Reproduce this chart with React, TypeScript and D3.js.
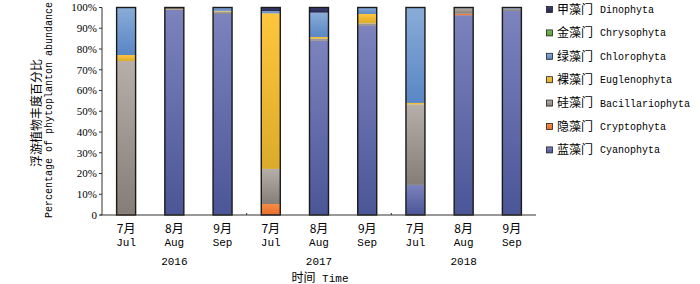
import React from "react";
import * as d3 from "d3";

const months = ["7月", "8月", "9月", "7月", "8月", "9月", "7月", "8月", "9月"];
const monthsEn = ["Jul", "Aug", "Sep", "Jul", "Aug", "Sep", "Jul", "Aug", "Sep"];
const years = ["2016", "2017", "2018"];
const seriesKeys = ["Cyanophyta", "Cryptophyta", "Bacillariophyta", "Euglenophyta", "Chlorophyta", "Chrysophyta", "Dinophyta"];
const seriesCn = ["蓝藻门", "隐藻门", "硅藻门", "裸藻门", "绿藻门", "金藻门", "甲藻门"];
const Cyanophyta = [0, 98.8, 96.9, 0, 84.0, 91.2, 14.5, 96.3, 98.3];
const Cryptophyta = [0.5, 0, 0, 5.3, 0, 0, 0, 0.7, 0];
const Bacillariophyta = [73.7, 0.4, 1.2, 16.9, 1.0, 1.2, 38.8, 2.7, 1.2];
const Euglenophyta = [2.9, 0.3, 0.3, 75.0, 0.8, 4.5, 0.7, 0, 0];
const Chlorophyta = [22.9, 0, 1.6, 1.0, 11.7, 3.1, 46.0, 0, 0.5];
const Chrysophyta = [0, 0, 0, 0, 0, 0, 0, 0, 0];
const Dinophyta = [0, 0.5, 0, 1.8, 2.5, 0, 0, 0.3, 0];
const yTicks = [0, 10, 20, 30, 40, 50, 60, 70, 80, 90, 100];

const colorsTop: Record<string, string> = {
  Cyanophyta: "#7c83bd", Cryptophyta: "#f68b47", Bacillariophyta: "#b5aea9",
  Euglenophyta: "#ffc63c", Chlorophyta: "#8aacd8", Chrysophyta: "#7cbf55", Dinophyta: "#3d4074",
};
const colorsBot: Record<string, string> = {
  Cyanophyta: "#4b5697", Cryptophyta: "#e86e2c", Bacillariophyta: "#857d78",
  Euglenophyta: "#dcab2b", Chlorophyta: "#5986c4", Chrysophyta: "#5c9a38", Dinophyta: "#25284f",
};

const seriesData: Record<string, number[]> = { Cyanophyta, Cryptophyta, Bacillariophyta, Euglenophyta, Chlorophyta, Chrysophyta, Dinophyta };

export default function App() {
  const idx = months.map((_, i) => i);
  const rows = idx.map((i) => {
    const r: any = { i };
    seriesKeys.forEach((k) => (r[k] = seriesData[k][i]));
    return r;
  });
  const stacked = d3.stack<any>().keys(seriesKeys)(rows);
  const x = d3.scaleBand<number>().domain(idx).range([102, 536]).padding(0);
  const y = d3.scaleLinear().domain([0, 100]).range([215, 7.5]);
  const bw = 19;
  const cx = (i: number) => (x(i) as number) + x.bandwidth() / 2;
  const serif = "'Liberation Serif', serif";
  const mono = "'Liberation Mono', monospace";
  const cjk = "'Noto Sans CJK SC', sans-serif";
  const legendOrder = [...seriesKeys].reverse();
  const legendCn = [...seriesCn].reverse();

  return (
    <svg width={700} height={284} style={{ position: "absolute", left: 0, top: 0, background: "#fff" }}>
      <defs>
        {seriesKeys.map((k) => (
          <linearGradient key={k} id={"g-" + k} x1="0" y1="0" x2="0" y2="1">
            <stop offset="0%" stopColor={colorsTop[k]} />
            <stop offset="100%" stopColor={colorsBot[k]} />
          </linearGradient>
        ))}
      </defs>
      {stacked.map((s) =>
        s.map((d, i) => {
          const h = y(d[0]) - y(d[1]);
          if (h <= 0) return null;
          return (
            <rect key={s.key + i} x={cx(i) - bw / 2} y={y(d[1])} width={bw} height={h} fill={`url(#g-${s.key})`} />
          );
        })
      )}
      {idx.map((i) => (
        <rect key={"o" + i} x={cx(i) - bw / 2} y={y(100)} width={bw} height={y(0) - y(100)} fill="none" stroke="#1a1a1a" strokeWidth={1.4} />
      ))}
      <line x1={102} x2={102} y1={y(100)} y2={y(0)} stroke="#333" strokeWidth={1} />
      {yTicks.map((t) => (
        <g key={t}>
          <line x1={99} x2={102} y1={y(t)} y2={y(t)} stroke="#333" />
          <text x={97} y={y(t)} dy="0.35em" textAnchor="end" fontFamily={serif} fontSize={11} fill="#000">
            {t === 0 ? "0" : t + "%"}
          </text>
        </g>
      ))}
      <line x1={100} x2={536} y1={215} y2={215} stroke="#333" strokeWidth={1} />
      {[3, 6].map((i) => (
        <line key={i} x1={x(i) as number} x2={x(i) as number} y1={213} y2={215} stroke="#333" />
      ))}
      {idx.map((i) => (
        <g key={"xl" + i}>
          <text x={cx(i)} y={233} textAnchor="middle" fontFamily={cjk} fontSize={12} fill="#000">
            {months[i]}
          </text>
          <text x={cx(i)} y={246} textAnchor="middle" fontFamily={mono} fontSize={11} fill="#000">
            {monthsEn[i]}
          </text>
        </g>
      ))}
      {years.map((yr, j) => (
        <text key={yr} x={cx(j * 3 + 1)} y={265} textAnchor="middle" fontFamily={mono} fontSize={11} fill="#000">
          {yr}
        </text>
      ))}
      <text x={320} y={282} textAnchor="middle" fill="#000">
        <tspan fontFamily={cjk} fontSize={12}>时间</tspan>
        <tspan fontFamily={mono} fontSize={11}> Time</tspan>
      </text>
      <text transform="translate(41,113) rotate(-90)" textAnchor="middle" fontFamily={cjk} fontSize={12} fill="#000">
        浮游植物丰度百分比
      </text>
      <text transform="translate(52,110) rotate(-90)" textAnchor="middle" fontFamily={mono} fontSize={10} fill="#000">
        Percentage of phytoplanton abundance
      </text>
      {legendOrder.map((k, j) => {
        const ly = 9.5 + j * 23.4;
        return (
          <g key={"lg" + k}>
            <rect x={546.5} y={ly - 3} width={6} height={6} fill={`url(#g-${k})`} stroke="#222" strokeWidth={0.8} />
            <text x={557} y={ly} dy="0.35em" fontFamily={cjk} fontSize={12} fill="#000">
              {legendCn[j]}
            </text>
            <text x={600} y={ly} dy="0.35em" fontFamily={mono} fontSize={10} fill="#000">
              {k}
            </text>
          </g>
        );
      })}
    </svg>
  );
}
